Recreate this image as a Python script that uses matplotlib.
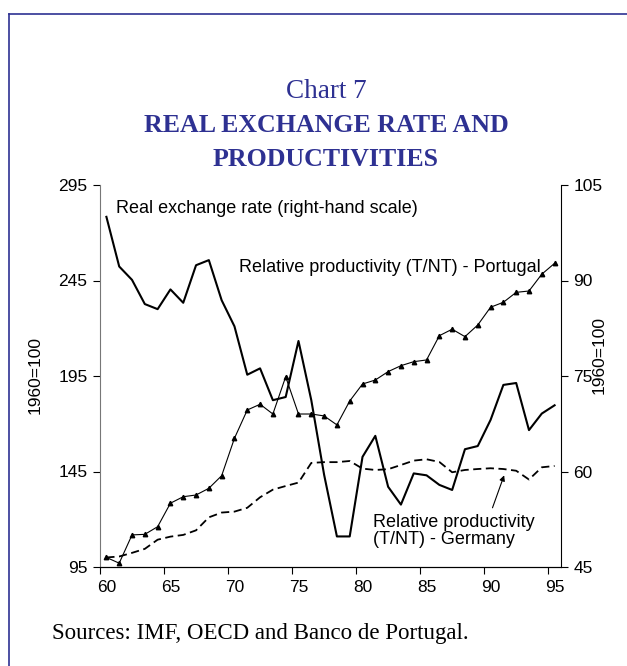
import matplotlib
matplotlib.use("Agg")
import matplotlib.pyplot as plt
from matplotlib.lines import Line2D

# data (1960=100)
years = list(range(1960, 1996))
reer = [100, 92.2, 90.1, 86.3, 85.5, 88.6, 86.5, 92.4, 93.2, 86.9,
        82.8, 75.2, 76.2, 71.2, 71.7, 80.5, 71.2, 59.5, 49.8, 49.8,
        62.3, 65.6, 57.6, 54.8, 59.7, 59.4, 57.9, 57.1, 63.5, 64.0,
        68.1, 73.6, 73.9, 66.5, 69.1, 70.4]
prod_pt = [100, 97, 111.8, 112.1, 116.1, 128.4, 131.8, 132.7, 136.2, 142.8,
           162.4, 177.2, 180.2, 175.1, 194.6, 175.1, 175.1, 174.1, 169.4, 181.9,
           190.8, 192.9, 197.3, 200.4, 202.5, 203.4, 216.1, 219.5, 215.6, 221.7,
           231.0, 233.6, 238.8, 239.5, 248.3, 254.0]
prod_de = [100, 100.5, 102.4, 104.5, 109.3, 110.9, 111.8, 114.2, 121.0, 123.5,
           124.0, 126.0, 131.5, 135.5, 137.4, 139.2, 149.5, 149.9, 149.9, 150.5,
           146.5, 145.8, 146.2, 148.4, 150.7, 151.4, 150.0, 144.6, 145.8, 146.3,
           146.7, 146.3, 145.4, 140.8, 147.2, 147.9]

left_ticks = [95, 145, 195, 245, 295]
right_ticks = [45, 60, 75, 90, 105]
x_labels = [1960, 1965, 1970, 1975, 1980, 1985, 1990, 1995]

W, H = 627, 666
blue = "#2e3192"
plt.rcParams["font.family"] = ["Liberation Sans", "DejaVu Sans"]

fig = plt.figure(figsize=(W / 100, H / 100), dpi=100)
ax = fig.add_axes([100 / W, 1 - 567 / H, 461 / W, 382 / H])
ax2 = ax.twinx()

ax.plot(years, prod_pt, color="black", lw=0.8, marker="^", ms=3.2)
ax.plot(years, prod_de, color="black", lw=1.3, dashes=(4.5, 2.5))
ax2.plot(years, reer, color="black", lw=1.5)

ax.set_xlim(1959.5, 1995.5)
ax.set_ylim(95, 295)
ax2.set_ylim(45, 105)
ax.set_yticks(left_ticks)
ax2.set_yticks(right_ticks)

# category style axis: labels under the years, marks between them
ax.set_xticks(x_labels)
ax.set_xticklabels([str(y)[2:] for y in x_labels])
ax.tick_params(axis="x", length=0, pad=9, labelsize=12.5)
ax.set_xticks([y - 0.5 for y in x_labels], minor=True)
ax.tick_params(axis="x", which="minor", length=5, width=0.8, direction="out")
ax.tick_params(axis="y", length=5, width=0.8, labelsize=12.5, pad=4)
ax2.tick_params(axis="y", length=5, width=0.8, labelsize=12.5, pad=4)

for a in (ax, ax2):
    a.spines["top"].set_visible(False)
    for s in a.spines.values():
        s.set_linewidth(0.8)
ax.spines["left"].set_color("#777777")
ax2.spines["left"].set_visible(False)
ax.spines["right"].set_visible(False)

ax.set_ylabel("1960=100", fontsize=12.5)
ax.yaxis.set_label_coords(-0.124, 0.503)
ax2.set_ylabel("1960=100", fontsize=12.5, rotation=90)
ax2.yaxis.set_label_coords(1.067, 0.555)

ax.text(1960.75, 282.5, "Real exchange rate (right-hand scale)",
        fontsize=13, va="center", ha="left")
ax.text(1970.36, 251.6, "Relative productivity (T/NT) - Portugal",
        fontsize=13, va="center", ha="left")
ax.text(1980.8, 113.9, "Relative productivity\n(T/NT) - Germany",
        fontsize=13, va="center", ha="left", linespacing=1.05)
ax.annotate("", xy=(1991.06, 143.0), xytext=(1990.15, 126.0),
            arrowprops=dict(arrowstyle="-|>", color="black", lw=0.8,
                            mutation_scale=8, shrinkA=0, shrinkB=0))

# titles and frame
fig.text(326 / W, 1 - 92 / H, "Chart 7", color=blue, fontsize=19.5,
         family="Liberation Serif", ha="center", va="center")
fig.text(326 / W, 1 - 126 / H, "REAL EXCHANGE RATE AND", color=blue,
         fontsize=18.6, family="Liberation Serif", weight="bold",
         ha="center", va="center")
fig.text(326 / W, 1 - 160 / H, "PRODUCTIVITIES", color=blue,
         fontsize=18.6, family="Liberation Serif", weight="bold",
         ha="center", va="center")
fig.text(52 / W, 1 - 633 / H, "Sources: IMF, OECD and Banco de Portugal.",
         fontsize=16.5, family="Liberation Serif", ha="left", va="center")

fig.add_artist(Line2D([9 / W, 9 / W], [0, 1 - 14 / H], color=blue, lw=1.2,
                      transform=fig.transFigure))
fig.add_artist(Line2D([9 / W, 1], [1 - 14 / H, 1 - 14 / H], color=blue,
                      lw=1.2, transform=fig.transFigure))

fig.savefig("out.png", dpi=100)
